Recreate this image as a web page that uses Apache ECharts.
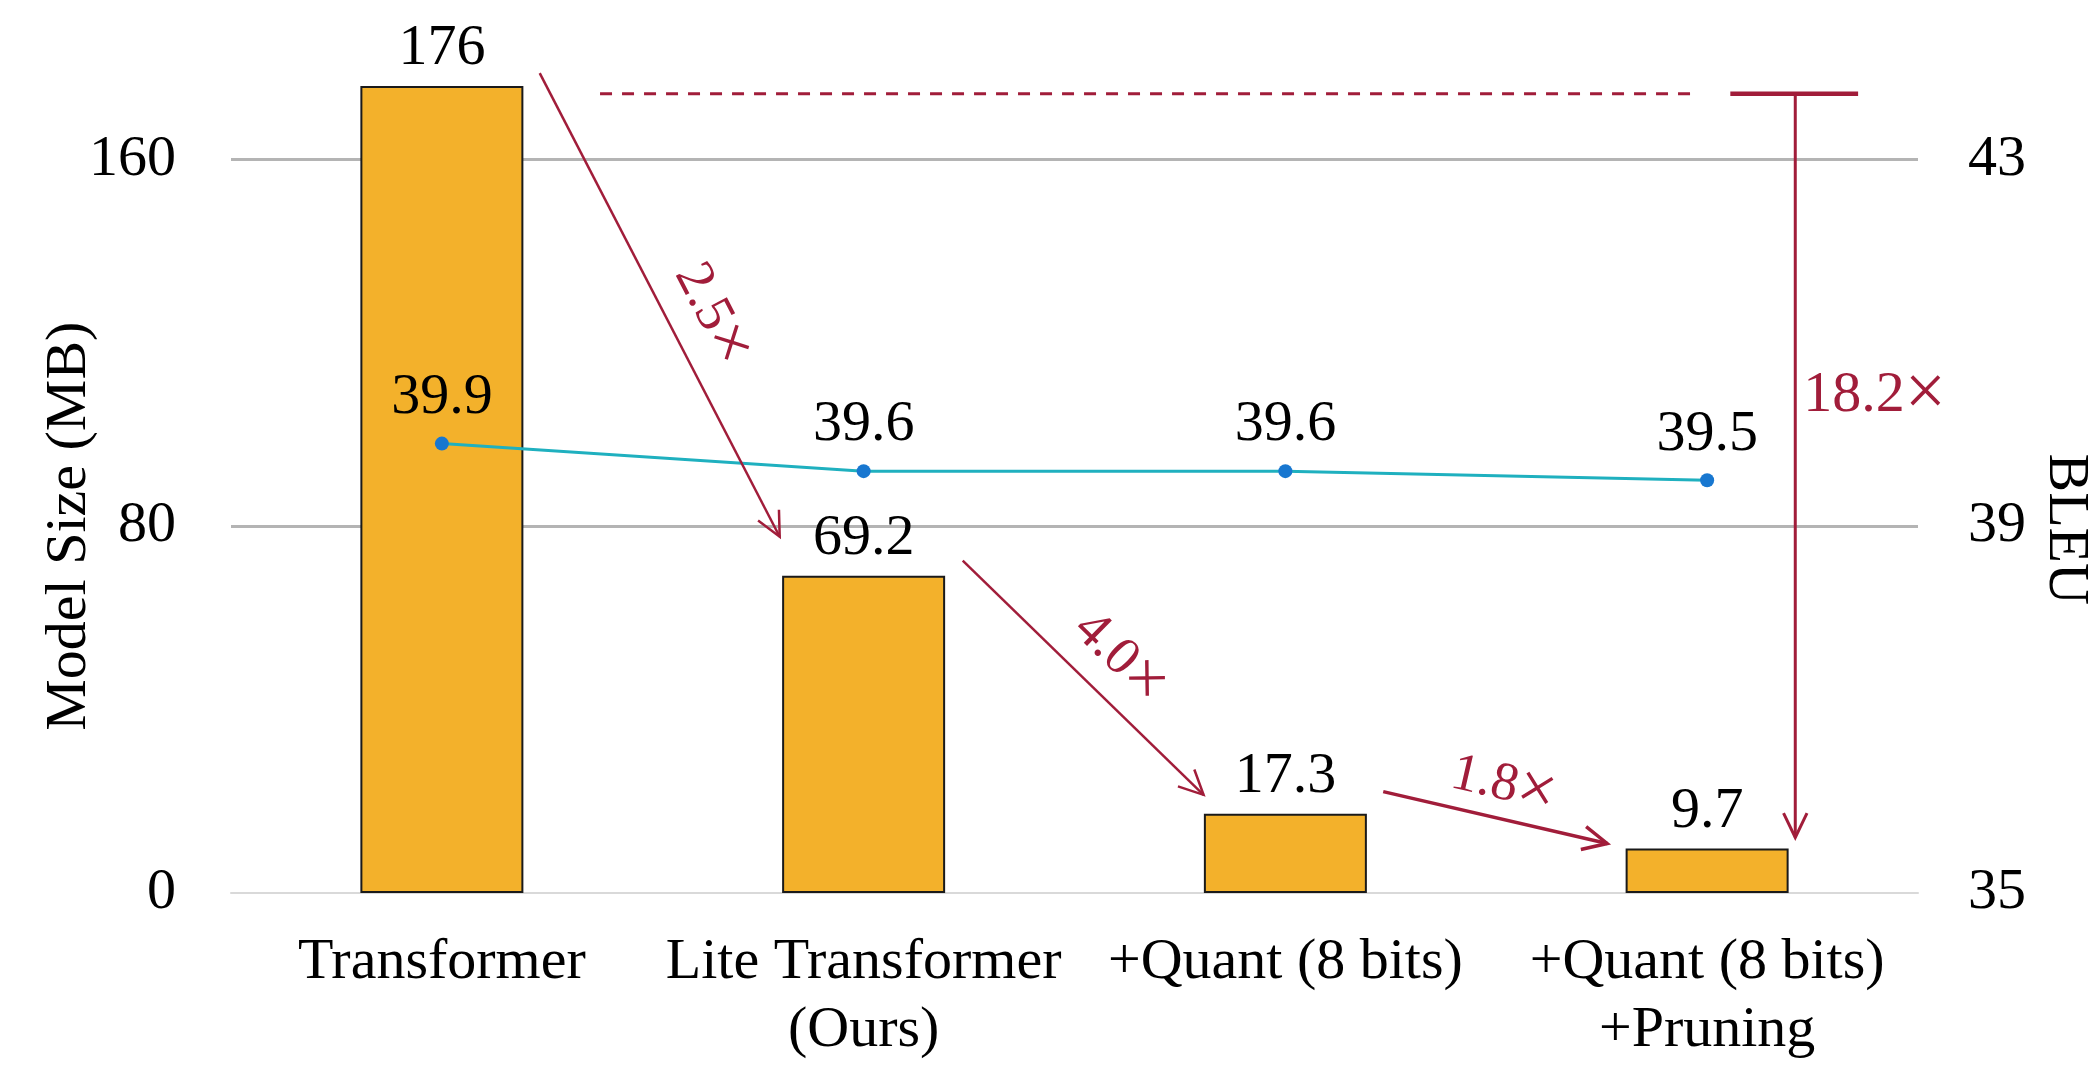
<!DOCTYPE html>
<html>
<head>
<meta charset="utf-8">
<title>Model Size and BLEU</title>
<script src="https://cdn.jsdelivr.net/npm/echarts@6/dist/echarts.min.js"></script>
<style>
  html, body { margin: 0; padding: 0; background: #ffffff; }
  #chart { width: 2091px; height: 1065px; }
</style>
</head>
<body>
<div id="chart"></div>
<script>
// ---- data ----
const categories = ['Transformer', 'Lite Transformer\n(Ours)', '+Quant (8 bits)', '+Quant (8 bits)\n+Pruning'];
const modelSizeMB = [176, 69.2, 17.3, 9.7];
const bleuScores = [39.9, 39.6, 39.6, 39.5];
const sizeAxis = { min: 0, max: 180, interval: 80 };   // ticks 0, 80, 160
const bleuAxis = { min: 35, max: 44, interval: 4 };    // ticks 35, 39, 43
const reductionFactors = ['2.5', '4.0', '1.8', '18.2']; // drawn with a trailing ×

// ---- styling ----
const FONT = '"Liberation Serif", "Times New Roman", serif';
const RED = '#a11d3a';

const chart = echarts.init(document.getElementById('chart'), null, { renderer: 'canvas' });

chart.setOption({
  animation: false,
  backgroundColor: '#ffffff',
  grid: { left: 231, right: 173, top: 67.6, bottom: 166, containLabel: false },
  xAxis: {
    type: 'category',
    data: categories,
    axisTick: { show: false },
    axisLine: { lineStyle: { color: '#d9d9d9', width: 2 } },
    axisLabel: {
      interval: 0, margin: 36, color: '#000',
      fontFamily: FONT, fontSize: 58, lineHeight: 68
    }
  },
  yAxis: [{
    type: 'value',
    min: sizeAxis.min, max: sizeAxis.max, interval: sizeAxis.interval,
    axisLine: { show: false }, axisTick: { show: false },
    axisLabel: { showMaxLabel: false, margin: 55, color: '#000', fontFamily: FONT, fontSize: 58 },
    splitLine: { showMinLine: false, showMaxLine: false, lineStyle: { color: '#b4b4b4', width: 3 } }
  }, {
    type: 'value', position: 'right',
    min: bleuAxis.min, max: bleuAxis.max, interval: bleuAxis.interval,
    axisLine: { show: false }, axisTick: { show: false },
    axisLabel: { showMaxLabel: false, margin: 50, color: '#000', fontFamily: FONT, fontSize: 58 },
    splitLine: { show: false }
  }],
  series: [{
    name: 'Model Size (MB)',
    type: 'bar',
    data: modelSizeMB,
    barWidth: 163,
    itemStyle: { color: '#f3b12b', borderColor: '#1a1a1a', borderWidth: 2 },
    label: {
      show: true, position: 'top', distance: 8, color: '#000',
      fontFamily: FONT, fontSize: 58
    },
    z: 2
  }, {
    name: 'BLEU',
    type: 'line',
    yAxisIndex: 1,
    data: bleuScores,
    symbol: 'circle',
    symbolSize: 14,
    lineStyle: { color: '#1fb0bf', width: 3 },
    itemStyle: { color: '#1877d0' },
    label: {
      show: true, position: 'top', distance: 10, color: '#000',
      fontFamily: FONT, fontSize: 58
    },
    z: 5
  }]
});

// ---- reduction annotations, anchored to category slots and model-size values ----
// each point: [category index, offset in category widths, model size value]
const arrowSpecs = [
  { from: [0, 0.232, 178.8], to: [1, -0.199, 77.7], width: 2.5 },
  { from: [1, 0.235, 72.5],  to: [2, -0.194, 21.4], width: 2.5 },
  { from: [2, 0.232, 22.1],  to: [3, -0.237, 10.8], width: 3.5 },
  { from: [3, 0.209, 174.3], to: [3, 0.209, 12.1],  width: 3 }
];
const labelSpecs = [
  { at: [0, 0.640, 126.2], follow: 0, align: 'center', size: 54 },
  { at: [1, 0.607, 51.3],  follow: 1, align: 'center', size: 54 },
  { at: [2, 0.517, 23.6],  follow: 2, align: 'center', size: 54 },
  { at: [3, 0.228, 108.5], follow: null, align: 'left', size: 58 }
];
const dashedSpec = { from: [0, 0.375, 174.3], to: [3, -0.038, 174.3] };
const capSpec = { from: [3, 0.055, 174.3], to: [3, 0.358, 174.3] };

function toPx(p) {
  const c0 = chart.convertToPixel({ xAxisIndex: 0 }, 0);
  const c1 = chart.convertToPixel({ xAxisIndex: 0 }, 1);
  const band = c1 - c0;
  const x = chart.convertToPixel({ xAxisIndex: 0 }, p[0]) + p[1] * band;
  const y = chart.convertToPixel({ yAxisIndex: 0 }, p[2]);
  return [x, y];
}

function arrowHead(a, b, len, halfAngle) {
  const dx = b[0] - a[0], dy = b[1] - a[1];
  const ang = Math.atan2(dy, dx);
  const p1 = [b[0] - len * Math.cos(ang - halfAngle), b[1] - len * Math.sin(ang - halfAngle)];
  const p2 = [b[0] - len * Math.cos(ang + halfAngle), b[1] - len * Math.sin(ang + halfAngle)];
  return [p1, b, p2];
}

const graphics = [];

// dashed reference at the baseline model size and its solid cap
const d1 = toPx(dashedSpec.from), d2 = toPx(dashedSpec.to);
graphics.push({
  type: 'line', silent: true, z: 10,
  shape: { x1: d1[0], y1: d1[1], x2: d2[0], y2: d2[1] },
  style: { stroke: RED, lineWidth: 3, lineDash: [12, 10] }
});
const k1 = toPx(capSpec.from), k2 = toPx(capSpec.to);
graphics.push({
  type: 'line', silent: true, z: 10,
  shape: { x1: k1[0], y1: k1[1], x2: k2[0], y2: k2[1] },
  style: { stroke: RED, lineWidth: 4.5 }
});

const arrowPx = arrowSpecs.map(s => ({ a: toPx(s.from), b: toPx(s.to), w: s.width }));
arrowPx.forEach(ar => {
  graphics.push({
    type: 'line', silent: true, z: 10,
    shape: { x1: ar.a[0], y1: ar.a[1], x2: ar.b[0], y2: ar.b[1] },
    style: { stroke: RED, lineWidth: ar.w }
  });
  graphics.push({
    type: 'polyline', silent: true, z: 10,
    shape: { points: arrowHead(ar.a, ar.b, 27, 0.45) },
    style: { stroke: RED, lineWidth: ar.w, fill: null, lineJoin: 'miter' }
  });
});

labelSpecs.forEach((s, i) => {
  const p = toPx(s.at);
  let rot = 0;
  if (s.follow !== null) {
    const ar = arrowPx[s.follow];
    rot = -Math.atan2(ar.b[1] - ar.a[1], ar.b[0] - ar.a[0]);
  }
  graphics.push({
    type: 'text', silent: true, z: 11,
    x: p[0], y: p[1], rotation: rot,
    style: {
      text: '{n|' + reductionFactors[i] + '}{x|×}',
      align: s.align, verticalAlign: 'middle',
      rich: {
        n: { fill: RED, fontFamily: FONT, fontSize: s.size },
        x: { fill: RED, fontFamily: FONT, fontSize: Math.round(s.size * 1.25) }
      }
    }
  });
});

// axis titles, centred on the middle gridline
const midY = chart.convertToPixel({ yAxisIndex: 0 }, 80);
graphics.push({
  type: 'text', silent: true,
  x: 70, y: midY, rotation: Math.PI / 2,
  style: { text: 'Model Size (MB)', fill: '#000', font: '58px ' + FONT, align: 'center', verticalAlign: 'middle' }
});
graphics.push({
  type: 'text', silent: true,
  x: 2065, y: midY + 3, rotation: -Math.PI / 2,
  style: { text: 'BLEU', fill: '#000', font: '58px ' + FONT, align: 'center', verticalAlign: 'middle' }
});

chart.setOption({ graphic: graphics });
</script>
</body>
</html>
